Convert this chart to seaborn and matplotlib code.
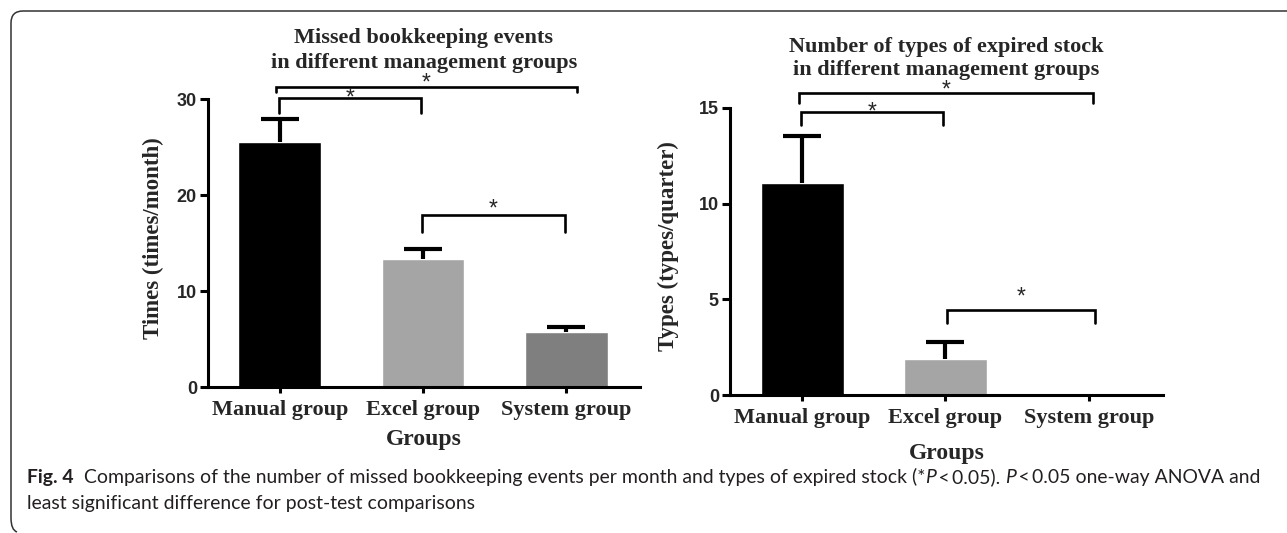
import numpy as np
import matplotlib
matplotlib.use("Agg")
import matplotlib.pyplot as plt
import seaborn as sns
from matplotlib import font_manager
from matplotlib.path import Path
from matplotlib.patches import PathPatch
from matplotlib import transforms

# ---- data -------------------------------------------------------------
groups = ["Manual group", "Excel group", "System group"]
bar_colors = ["#000000", "#a5a5a5", "#7f7f7f"]

missed_mean = [25.5, 13.3, 5.7]
missed_err = [2.4, 1.1, 0.55]

expired_mean = [11.1, 1.88, 0.0]
expired_err = [2.45, 0.9, 0.0]

missed_ticks = [0, 10, 20, 30]
expired_ticks = [0, 5, 10, 15]

# ---- figure -----------------------------------------------------------
W, H = 1287, 533
DPI = 100
sns.set_theme(style="white")
plt.rcParams["font.family"] = ["DejaVu Sans"]

fig = plt.figure(figsize=(W / DPI, H / DPI), dpi=DPI)
fig.patch.set_facecolor("white")


def fx(px):
    return px / W


def fy(py):
    return 1 - py / H


SERIF = "Liberation Serif"
SANS = "Liberation Sans"


def pick_font(names):
    for n in names:
        try:
            font_manager.findfont(font_manager.FontProperties(family=n),
                                  fallback_to_default=False)
            return n
        except Exception:
            continue
    return "DejaVu Sans"


CAPTION_FONT = pick_font(["Liberation Sans Narrow", "Lato", "Open Sans"])


def panel(rect_px, means, errs, yticks, ymax, ylabel, ylabel_x, title_lines,
          title_baselines, tick_baseline, xlabel_baseline, brackets):
    x0, x1, ytop, ybot = rect_px
    ax = fig.add_axes([fx(x0), fy(ybot), fx(x1 - x0), (ybot - ytop) / H])
    sns.barplot(x=groups, y=means, hue=groups, palette=bar_colors,
                width=0.58, saturation=1, legend=False, errorbar=None, ax=ax)
    pos = np.arange(len(groups))
    m = np.array(means)
    e = np.array(errs)
    keep = e > 0
    _, caps, _ = ax.errorbar(pos[keep], m[keep],
                             yerr=[np.zeros(keep.sum()), e[keep]],
                             fmt="none", ecolor="black", elinewidth=3.0,
                             capsize=14, capthick=3.0, zorder=1)
    # upper-only error bars: hide the cap sitting on the bar top
    caps[0].set_visible(False)
    ax.set_xlim(-0.503, 2.517)
    ax.set_ylim(0, ymax)
    ax.set_yticks(yticks)
    ax.set_yticklabels([str(t) for t in yticks], fontfamily=SANS,
                       fontweight="bold", fontsize=13)
    ax.set_xticks(pos)
    ax.set_xticklabels([])
    for s in ["top", "right"]:
        ax.spines[s].set_visible(False)
    for s in ["left", "bottom"]:
        ax.spines[s].set_linewidth(2.2)
        ax.spines[s].set_color("black")
    ax.tick_params(axis="y", direction="out", length=6, width=2.2,
                   color="black", pad=2, left=True)
    ax.tick_params(axis="x", direction="out", length=4, width=2.2,
                   color="black", bottom=True)
    ax.set_xlabel("")
    ax.set_ylabel("")
    ax.grid(False)

    # category labels
    for i, g in enumerate(groups):
        xd = ax.transData.transform((i, 0))[0]
        fig.text(xd / W, fy(tick_baseline), g, ha="center", va="baseline",
                 fontfamily=SERIF, fontweight="bold", fontsize=16)
    cx = (x0 + x1) / 2
    fig.text(fx(cx), fy(xlabel_baseline), "Groups", ha="center",
             va="baseline", fontfamily=SERIF, fontweight="bold", fontsize=17)
    fig.text(fx(ylabel_x), fy((ytop + ybot) / 2 - 5), ylabel, rotation=90,
             ha="center", va="center", fontfamily=SERIF, fontweight="bold",
             fontsize=16.5)
    for line, b in zip(title_lines, title_baselines):
        fig.text(fx(cx), fy(b), line, ha="center", va="baseline",
                 fontfamily=SERIF, fontweight="bold", fontsize=16)

    # significance brackets
    for xa, xb, yl, yd, ys in brackets:
        ax.plot([xa, xa, xb, xb], [yd, yl, yl, yd], color="black", lw=1.9,
                solid_joinstyle="miter", clip_on=False)
        tr = transforms.offset_copy(ax.transData, fig=fig, x=0, y=-11,
                                    units="dots")
        ax.text((xa + xb) / 2, ys, "*", ha="center", va="baseline",
                fontfamily=SANS, fontsize=16.5, transform=tr, clip_on=False)
    return ax


panel((208, 640, 99, 387), missed_mean, missed_err, missed_ticks, 30,
      "Times (times/month)", 153,
      ["Missed bookkeeping events", "in different management groups"],
      [43, 68], 415, 445,
      [(-0.03, 2.077, 31.25, 30.7, 32.1),
       (-0.01, 0.986, 30.1, 28.5, 30.6),
       (0.993, 1.993, 17.9, 16.1, 18.96)])

panel((730, 1163, 108, 395), expired_mean, expired_err, expired_ticks, 15,
      "Types (types/quarter)", 668,
      ["Number of types of expired stock", "in different management groups"],
      [52, 75], 423, 459,
      [(-0.02, 2.03, 15.8, 15.25, 16.15),
       (-0.01, 0.986, 14.8, 14.1, 15.05),
       (1.01, 2.04, 4.44, 3.76, 5.38)])

# ---- frame with rounded corners on the left ------------------------------
r = 12
L, T, B = 11, 11, 530
verts = [(W, T), (L + r, T), (L, T), (L, T + r), (L, B - r), (L, B),
         (L + 6, B + 2)]
codes = [Path.MOVETO, Path.LINETO, Path.CURVE3, Path.CURVE3, Path.LINETO,
         Path.CURVE3, Path.CURVE3]
verts_f = [(fx(a), fy(b)) for a, b in verts]
fig.add_artist(PathPatch(Path(verts_f, codes), transform=fig.transFigure,
                         fill=False, edgecolor="#333333", lw=1.1))

# ---- caption ---------------------------------------------------------------
renderer = fig.canvas.get_renderer()
CAP_COLOR = "#231f20"

line1 = [("Fig. 4", "bold", "normal"),
         ("  Comparisons of the number of missed bookkeeping events per month "
          "and types of expired stock (*", "normal", "normal"),
         ("P", "normal", "italic"),
         ("\u2009<\u20090.05). ", "normal", "normal"),
         ("P", "normal", "italic"),
         ("\u2009<\u20090.05 one-way ANOVA and", "normal", "normal")]
line2 = [("least significant difference for post-test comparisons", "normal",
          "normal")]


def draw_runs(runs, x_px, base_px, size):
    arts = []
    x = x_px
    for s, w, st in runs:
        t = fig.text(fx(x), fy(base_px), s, ha="left", va="baseline",
                     fontfamily=[CAPTION_FONT, "DejaVu Sans"], fontweight=w,
                     fontstyle=st, fontsize=size, color=CAP_COLOR)
        bb = t.get_window_extent(renderer=renderer)
        x += bb.width
        arts.append(t)
    return arts, x


trial, end = draw_runs(line1, 27, 485, 12)
for a in trial:
    a.remove()
cap_size = 12 * (1255 - 27) / (end - 27)
draw_runs(line1, 27, 483, cap_size)
draw_runs(line2, 27, 509, cap_size)

fig.savefig("out.png", dpi=DPI, facecolor="white")
